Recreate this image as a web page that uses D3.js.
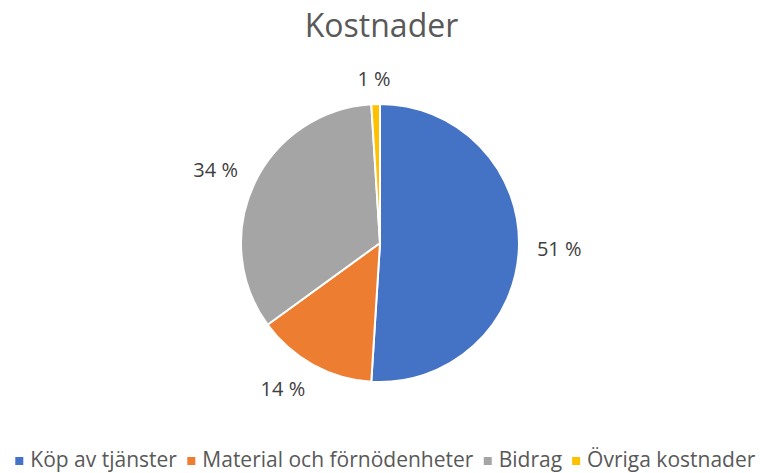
<!DOCTYPE html>
<html>
<head>
<meta charset="utf-8">
<script src="https://cdn.jsdelivr.net/npm/d3@7"></script>
<style>
  html, body { margin: 0; padding: 0; background: #fff; }
  svg { display: block; font-family: "Open Sans", Lato, sans-serif; }
</style>
</head>
<body>
<svg id="chart" width="763" height="473"></svg>
<script>
// Cost breakdown (percent of total)
const categories = ["Köp av tjänster", "Material och förnödenheter", "Bidrag", "Övriga kostnader"];
const values = [51, 14, 34, 1];
const colors = ["#4472C4", "#ED7D31", "#A5A5A5", "#FFC000"];
const title = "Kostnader";

const W = 763, H = 473;
const cx = 380, cy = 243, radius = 139;

const svg = d3.select("#chart");

svg.append("text")
  .attr("x", W / 2)
  .attr("y", 37)
  .attr("text-anchor", "middle")
  .attr("font-size", 32)
  .attr("fill", "#595959")
  .text(title);

const data = categories.map((c, i) => ({ name: c, value: values[i], color: colors[i] }));

const pie = d3.pie().value(d => d.value).sort(null);
const arc = d3.arc().innerRadius(0).outerRadius(radius);
const arcs = pie(data);

const g = svg.append("g").attr("transform", `translate(${cx},${cy})`);

g.selectAll("path")
  .data(arcs)
  .join("path")
  .attr("d", arc)
  .attr("fill", d => d.data.color)
  .attr("stroke", "#fff")
  .attr("stroke-width", 2)
  .attr("stroke-linejoin", "round");

// Data labels: the side of each label box nearest the pie sits on the
// slice's mid-angle ray, a short distance outside the rim.
const labelFont = 20;
const anchorR = radius + 18;
const halfH = 8;
const clamp = v => Math.max(-1, Math.min(1, v));
g.selectAll("text.lbl")
  .data(arcs)
  .join("text")
  .attr("class", "lbl")
  .attr("font-size", labelFont)
  .attr("fill", "#404040")
  .attr("text-anchor", "middle")
  .attr("dominant-baseline", "central")
  .text(d => d.data.value + " %")
  .each(function (d) {
    const a = (d.startAngle + d.endAngle) / 2;
    const sx = Math.sin(a), sy = -Math.cos(a);
    const hw = this.getBBox().width / 2;
    const x = sx * anchorR + clamp(sx * 2) * hw;
    const y = sy * anchorR + clamp(sy * 2) * halfH;
    d3.select(this).attr("x", x).attr("y", y);
  });

// Legend along the bottom
const legend = svg.append("g").attr("font-size", 21).attr("fill", "#595959");
const items = legend.selectAll("g")
  .data(data)
  .join("g");
items.append("rect")
  .attr("width", 8).attr("height", 8)
  .attr("y", -10)
  .attr("fill", d => d.color);
items.append("text")
  .attr("x", 15)
  .attr("y", 0)
  .text(d => d.name);

const gap = 10;
const widths = items.nodes().map(n => n.getBBox().width);
const total = d3.sum(widths) + gap * (widths.length - 1);
let x = (W - total) / 2 + 4;
items.each(function (d, i) {
  d3.select(this).attr("transform", `translate(${x},467)`);
  x += widths[i] + gap;
});
</script>
</body>
</html>
